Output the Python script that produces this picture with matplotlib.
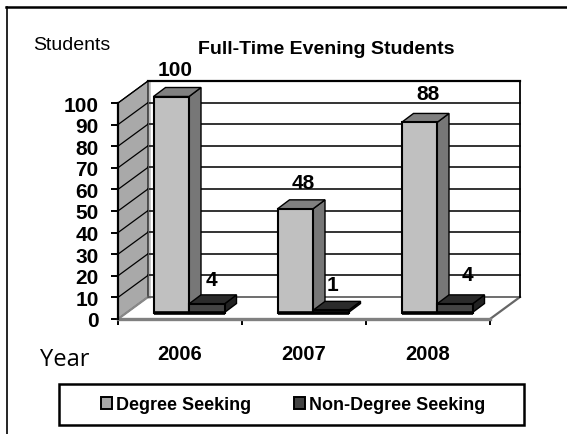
import matplotlib
matplotlib.use("Agg")
import matplotlib.pyplot as plt
from matplotlib.lines import Line2D
from matplotlib.patches import Patch, Polygon, Rectangle

plt.rcParams['font.family'] = ['Liberation Sans', 'DejaVu Sans']

years = ['2006', '2007', '2008']
degree = [100, 48, 88]
non_degree = [4, 1, 4]
y_ticks = [0, 10, 20, 30, 40, 50, 60, 70, 80, 90, 100]

W, H = 567, 435
DX = 30 / 124    # wall depth, in categories
DY = 22 / 2.16   # wall depth, in students
BAR_W = 35.5 / 124
BAR_X = -26.5 / 124
BAR_BASE = 3
BAR_DX = 12 / 124
BAR_DY = 9 / 2.16


def poly(ax, pts, color, z, edge='black', lw=1.0):
    ax.add_patch(Polygon(pts, closed=True, facecolor=color, edgecolor=edge,
                         linewidth=lw, zorder=z, clip_on=False, joinstyle='miter'))


def bar3d(ax, x, value, front, top, side, z):
    y0, y1 = BAR_BASE, BAR_BASE + value
    x1 = x + BAR_W
    poly(ax, [(x1, y0), (x1 + BAR_DX, y0 + BAR_DY), (x1 + BAR_DX, y1 + BAR_DY), (x1, y1)], side, z)
    poly(ax, [(x, y1), (x + BAR_DX, y1 + BAR_DY), (x1 + BAR_DX, y1 + BAR_DY), (x1, y1)], top, z)
    poly(ax, [(x, y0), (x1, y0), (x1, y1), (x, y1)], front, z, lw=1.5)
    ax.plot([x, x1], [y0 - 0.4, y0 - 0.4], color='black', lw=2.6, zorder=z + 0.1,
            clip_on=False, solid_capstyle='butt')


fig = plt.figure(figsize=(W / 100, H / 100), dpi=100)
ax = fig.add_axes([118 / W, (H - 320) / H, 372 / W, 216 / H])
ax.set_xlim(-0.5, 2.5)
ax.set_ylim(0, 100)
ax.patch.set_visible(False)

# walls and floor
left, right = -0.5, 2.5
poly(ax, [(left, 0), (left, 100), (left + DX, 100 + DY), (left + DX, DY)], '#a9a9a9', 1, lw=0.8)
ax.plot([left + DX + 0.012] * 2, [DY, 100 + DY], color='#c4c4c4', lw=2, zorder=1, clip_on=False)
ax.plot([right, right + DX], [0, DY], color='#666666', lw=1.6, zorder=1, clip_on=False)
ax.plot([left, left + DX], [0, DY], color='#888888', lw=1.6, zorder=1.1, clip_on=False)
for v in y_ticks:
    ax.plot([left + DX, right + DX], [v + DY, v + DY],
            color='#111111' if v else '#555555', lw=1.2, zorder=2, clip_on=False)
    if v:
        ax.plot([left, left + DX], [v, v + DY], color='black', lw=0.9, zorder=2, clip_on=False)
ax.plot([left + DX, left + DX], [DY, 100 + DY], color='#555555', lw=0.8, zorder=2, clip_on=False)
ax.plot([right + DX, right + DX], [DY, 100 + DY], color='black', lw=1.3, zorder=2, clip_on=False)
ax.plot([left + DX, right + DX], [100 + DY, 100 + DY], color='black', lw=1.6, zorder=2, clip_on=False)

# bars
label_off = [(-5, 27), (-1, 26), (0, 29)]
label_off2 = [(5, 24), (2, 26), (13, 29)]
for i, (d, n) in enumerate(zip(degree, non_degree)):
    x = i + BAR_X
    bar3d(ax, x, d, '#c0c0c0', '#808080', '#777777', 3)
    bar3d(ax, x + BAR_W, n, '#444444', '#2b2b2b', '#222222', 4)
    ax.annotate(str(d), xy=(i, BAR_BASE + d), xytext=label_off[i],
                textcoords='offset pixels', ha='center', va='center',
                fontsize=15, fontweight='bold', zorder=6, annotation_clip=False)
    ax.annotate(str(n), xy=(i + BAR_X + 1.5 * BAR_W, BAR_BASE + n), xytext=label_off2[i],
                textcoords='offset pixels', ha='center', va='center',
                fontsize=15, fontweight='bold', zorder=6, annotation_clip=False)

# axes
for s in ['top', 'right']:
    ax.spines[s].set_visible(False)
ax.spines['left'].set_linewidth(1.6)
ax.spines['left'].set_zorder(5)
ax.spines['bottom'].set_color('#808080')
ax.spines['bottom'].set_linewidth(2.4)
ax.spines['bottom'].set_zorder(2.5)
ax.set_yticks(y_ticks)
ax.set_yticklabels([str(v) for v in y_ticks], fontsize=15, fontweight='bold')
ax.tick_params(axis='y', length=5, width=1.4, pad=9)
ax.set_xticks([-0.5, 0.5, 1.5, 2.5])
ax.set_xticklabels([])
ax.tick_params(axis='x', which='major', length=4, width=1.4)
ax.set_xticks([0, 1, 2], minor=True)
ax.set_xticklabels(years, minor=True, fontsize=14.5, fontweight='bold')
ax.tick_params(axis='x', which='minor', length=0, pad=18)

# loose text
fig.text(198 / W, 1 - 50 / H, 'Full-Time Evening Students', fontsize=14, fontweight='bold', va='center')
fig.text(33 / W, 1 - 45 / H, 'Students', fontsize=14, va='center')
fig.text(40 / W, 1 - 360 / H, 'Year', fontsize=17, family='Open Sans', va='center')

# legend box drawn on its own, the legend itself has no frame
fig.add_artist(Rectangle((59 / W, 1 - 426 / H), 465 / W, 41 / H, transform=fig.transFigure,
                         facecolor='white', edgecolor='black', linewidth=1.8))
handles = [Patch(facecolor='#a8a8a8', edgecolor='black', linewidth=1.4),
           Patch(facecolor='#444444', edgecolor='black', linewidth=1.4)]
leg = fig.legend(handles, ['Degree Seeking', 'Non-Degree Seeking'], ncol=2, loc='center left',
                 bbox_to_anchor=(101 / W, 1 - 406 / H), frameon=False,
                 handlelength=0.6, handleheight=0.6, handletextpad=0.25,
                 columnspacing=2.35, borderpad=0, borderaxespad=0,
                 prop={'size': 13, 'weight': 'bold'})

# picture frame
fig.add_artist(Line2D([6 / W, 1], [1 - 8 / H, 1 - 8 / H], color='black', lw=1.8))
fig.add_artist(Line2D([6.5 / W, 6.5 / W], [0, 1 - 8 / H], color='black', lw=1.2))

fig.savefig('out.png', dpi=100)
